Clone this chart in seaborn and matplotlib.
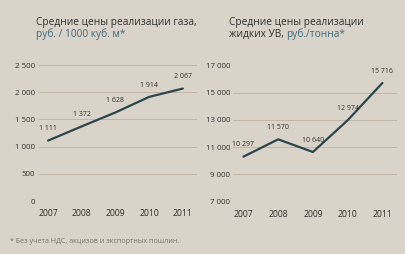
import matplotlib
matplotlib.use("Agg")
import matplotlib.pyplot as plt
import matplotlib.ticker as mticker
import pandas as pd
import seaborn as sns

years = [2007, 2008, 2009, 2010, 2011]
gas_price = [1111, 1372, 1628, 1914, 2067]
liquid_price = [10297, 11570, 10640, 12974, 15716]

gas_ticks = [0, 500, 1000, 1500, 2000, 2500]
liquid_ticks = [7000, 9000, 11000, 13000, 15000, 17000]

bg = "#dad3c9"
line_col = "#2b454d"
text_col = "#2f2e2c"
unit_col = "#3d6a7b"
grid_col = "#bdb1a1"


def fmt(v):
    return f"{int(v):,}".replace(",", " ")


sns.set_theme(style="white")
plt.rcParams["font.family"] = ["Open Sans", "DejaVu Sans"]

fig = plt.figure(figsize=(4.05, 2.54), dpi=100, facecolor=bg)
ax1 = fig.add_axes([38 / 405, 1 - 201 / 254, 159 / 405, 136 / 254])
ax2 = fig.add_axes([233 / 405, 1 - 201.5 / 254, 164 / 405, 136 / 254])

df_gas = pd.DataFrame({"year": years, "price": gas_price})
df_liq = pd.DataFrame({"year": years, "price": liquid_price})


def draw(ax, df, ticks):
    ax.set_facecolor(bg)
    sns.lineplot(data=df, x="year", y="price", ax=ax, color=line_col, linewidth=1.6)
    ax.set_ylim(ticks[0], ticks[-1])
    ax.set_xlim(2006.7, 2011.42)
    ax.set_yticks(ticks)
    ax.set_xticks(years)
    ax.yaxis.set_major_formatter(mticker.FuncFormatter(lambda v, p: fmt(v)))
    ax.grid(axis="y", color=grid_col, linewidth=0.6)
    for s in ax.spines.values():
        s.set_visible(False)
    ax.tick_params(axis="y", length=0, pad=2, labelsize=5.7, labelcolor=text_col)
    ax.tick_params(axis="x", length=0, pad=6, labelsize=6.2, labelcolor=text_col)
    ax.set_xlabel("")
    ax.set_ylabel("")
    for x, y in zip(df["year"], df["price"]):
        ax.annotate(fmt(y), (x, y), xytext=(0, 6), textcoords="offset points",
                    ha="center", va="bottom", fontsize=5, color=text_col)


draw(ax1, df_gas, gas_ticks)
draw(ax2, df_liq, liquid_ticks)

fig.text(36 / 405, 1 - 25 / 254, "Средние цены реализации газа,", fontsize=7.3,
         color=text_col, ha="left", va="baseline")
fig.text(36 / 405, 1 - 37 / 254, "руб. / 1000 куб. м*", fontsize=7.3,
         color=unit_col, ha="left", va="baseline")

fig.text(229 / 405, 1 - 25 / 254, "Средние цены реализации", fontsize=7.3,
         color=text_col, ha="left", va="baseline")
t = fig.text(229 / 405, 1 - 37 / 254, "жидких УВ, ", fontsize=7.3,
             color=text_col, ha="left", va="baseline")
fig.canvas.draw()
bb = t.get_window_extent()
fig.text(bb.x1 / fig.bbox.width, 1 - 37 / 254, "руб./тонна*", fontsize=7.3,
         color=unit_col, ha="left", va="baseline")

fig.text(10 / 405, 1 - 243 / 254, "* Без учета НДС, акцизов и экспортных пошлин.",
         fontsize=5.1, color="#77726c", ha="left", va="baseline")

fig.savefig("out.png", dpi=100, facecolor=bg)
